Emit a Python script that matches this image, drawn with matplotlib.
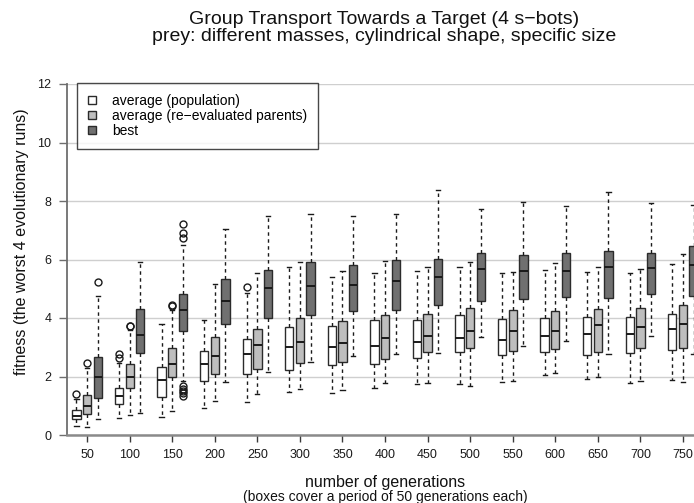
import matplotlib
matplotlib.use("Agg")
import matplotlib.pyplot as plt
from matplotlib.patches import Patch

plt.rcParams['font.family'] = ['Liberation Sans', 'DejaVu Sans']

generations = [50, 100, 150, 200, 250, 300, 350, 400, 450, 500, 550, 600, 650, 700, 750]

# average fitness of the population
pop_lo  = [0.30, 0.57, 0.63, 0.92, 1.12, 1.48, 1.44, 1.62, 1.75, 1.74, 1.81, 2.05, 1.91, 1.78, 1.88]
pop_q1  = [0.54, 1.05, 1.29, 1.85, 2.07, 2.23, 2.38, 2.43, 2.64, 2.83, 2.75, 2.83, 2.72, 2.79, 2.89]
pop_med = [0.66, 1.35, 1.87, 2.42, 2.77, 3.02, 3.01, 3.04, 3.18, 3.33, 3.26, 3.38, 3.44, 3.44, 3.62]
pop_q3  = [0.84, 1.62, 2.32, 2.88, 3.27, 3.70, 3.74, 3.92, 3.92, 4.09, 3.95, 3.99, 4.02, 4.02, 4.13]
pop_hi  = [1.23, 2.45, 3.79, 3.92, 4.85, 5.73, 5.41, 5.55, 5.60, 5.73, 5.53, 5.64, 5.57, 5.55, 5.85]
pop_out = {50: [1.40], 100: [2.62, 2.78], 250: [5.07]}

# average fitness of the re-evaluated parents
par_lo  = [0.28, 0.70, 0.83, 1.16, 1.40, 1.58, 1.53, 1.78, 1.79, 1.68, 1.83, 2.11, 1.98, 1.85, 1.82]
par_q1  = [0.72, 1.60, 1.98, 2.10, 2.27, 2.47, 2.48, 2.59, 2.83, 2.99, 2.86, 2.95, 2.84, 2.97, 2.97]
par_med = [0.98, 1.97, 2.42, 2.70, 3.07, 3.19, 3.16, 3.30, 3.38, 3.56, 3.57, 3.57, 3.75, 3.68, 3.81]
par_q3  = [1.38, 2.42, 2.96, 3.34, 3.61, 4.01, 3.90, 4.10, 4.15, 4.33, 4.27, 4.25, 4.32, 4.34, 4.44]
par_hi  = [2.30, 3.58, 4.28, 5.15, 5.55, 5.93, 5.62, 5.95, 5.73, 5.93, 5.57, 5.88, 5.75, 5.68, 6.19]
par_out = {50: [2.46], 100: [3.71, 3.74], 150: [4.41, 4.45]}

# best fitness
best_lo  = [0.55, 0.76, 1.85, 1.81, 2.17, 2.48, 2.69, 2.77, 2.80, 3.34, 3.04, 3.20, 2.77, 3.40, 2.76]
best_q1  = [1.25, 2.79, 3.57, 3.79, 4.01, 4.09, 4.24, 4.28, 4.43, 4.57, 4.66, 4.72, 4.67, 4.83, 4.75]
best_med = [1.97, 3.43, 4.27, 4.58, 5.01, 5.08, 5.13, 5.25, 5.41, 5.66, 5.62, 5.60, 5.73, 5.72, 5.81]
best_q3  = [2.66, 4.31, 4.81, 5.32, 5.63, 5.90, 5.82, 5.99, 6.03, 6.22, 6.15, 6.21, 6.29, 6.23, 6.47]
best_hi  = [4.75, 5.92, 6.50, 7.03, 7.50, 7.57, 7.50, 7.54, 8.38, 7.72, 7.98, 7.83, 8.31, 7.92, 7.85]
best_out = {50: [5.22], 150: [7.20, 6.89, 6.75, 1.33, 1.42, 1.50, 1.58, 1.68]}

series_labels = ["average (population)", "average (re\u2212evaluated parents)", "best"]
series_colors = ["#FFFFFF", "#BEBEBE", "#707070"]

series = [
    (pop_lo, pop_q1, pop_med, pop_q3, pop_hi, pop_out),
    (par_lo, par_q1, par_med, par_q3, par_hi, par_out),
    (best_lo, best_q1, best_med, best_q3, best_hi, best_out),
]

W, H = 694, 503
fig = plt.figure(figsize=(W / 100, H / 100), dpi=100)

# plot region in pixels; it runs past the right edge of the figure
x0_px, unit_px = 66.7, 10.64
xmin, xmax = 0.08, 61.0
y_bot, y_top = 435.0, 84.0
ax = fig.add_axes([x0_px / W, 1 - y_bot / H,
                   (xmax - xmin) * unit_px / W, (y_bot - y_top) / H])
ax.set_xlim(xmin, xmax)
ax.set_ylim(0, 12)

for k, (lo, q1, med, q3, hi, out) in enumerate(series):
    stats = []
    for g, gen in enumerate(generations):
        stats.append(dict(whislo=lo[g], q1=q1[g], med=med[g], q3=q3[g],
                          whishi=hi[g], fliers=out.get(gen, [])))
    positions = [4 * g + 1 + k for g in range(len(generations))]
    ax.bxp(stats, positions=positions, widths=0.78, patch_artist=True,
           showfliers=True, capwidths=0.4,
           boxprops=dict(facecolor=series_colors[k], edgecolor="#2b2b2b", linewidth=1.0),
           medianprops=dict(color="#1a1a1a", linewidth=1.4),
           whiskerprops=dict(color="#1a1a1a", linewidth=1.0, linestyle=(0, (2.5, 2.5))),
           capprops=dict(color="#1a1a1a", linewidth=1.0),
           flierprops=dict(marker="o", markerfacecolor="none", markeredgecolor="#1a1a1a",
                           markersize=5, markeredgewidth=1.0),
           zorder=3)

ax.set_axisbelow(True)
ax.set_yticks(range(0, 13, 2))
ax.yaxis.grid(True, color="#CFCFCF", linewidth=1.0)
ax.set_xticks([4 * g + 2 for g in range(len(generations))])
ax.set_xticklabels([str(g) for g in generations])

for side in ("top", "right"):
    ax.spines[side].set_visible(False)
ax.spines["left"].set_color("#6e6e6e")
ax.spines["left"].set_linewidth(1.3)
ax.spines["bottom"].set_color("#8a8a8a")
ax.spines["bottom"].set_linewidth(1.8)
ax.tick_params(axis="y", length=6, width=1.0, color="#6e6e6e", labelsize=9,
               labelcolor="#1a1a1a", pad=5)
ax.tick_params(axis="x", length=5, width=1.0, color="#3a3a3a", labelsize=9,
               labelcolor="#1a1a1a", pad=5)

handles = [Patch(facecolor=c, edgecolor="#2b2b2b", linewidth=1.0) for c in series_colors]
leg = ax.legend(handles, series_labels, loc="upper left",
                bbox_to_anchor=(0.0164, 1.002), fontsize=10, frameon=True,
                fancybox=False, borderaxespad=0, handlelength=0.55, handleheight=0.55,
                handletextpad=1.15, labelspacing=0.07, borderpad=0.78)
leg.get_frame().set_edgecolor("#1a1a1a")
leg.get_frame().set_linewidth(1.0)

fig.text(384 / W, 1 - 24 / H, "Group Transport Towards a Target (4 s\u2212bots)",
         ha="center", va="baseline", fontsize=14, color="#111111")
fig.text(384 / W, 1 - 41 / H, "prey: different masses, cylindrical shape, specific size",
         ha="center", va="baseline", fontsize=14, color="#111111")

fig.text(385 / W, 1 - 487 / H, "number of generations",
         ha="center", va="baseline", fontsize=11.5, color="#111111")
fig.text(385 / W, 1 - 501.5 / H, "(boxes cover a period of 50 generations each)",
         ha="center", va="baseline", fontsize=10, color="#111111")
fig.text(22 / W, 1 - 242 / H, "fitness (the worst 4 evolutionary runs)",
         ha="center", va="center", rotation=90, fontsize=11.5, color="#111111")

fig.savefig("out.png", dpi=100)
